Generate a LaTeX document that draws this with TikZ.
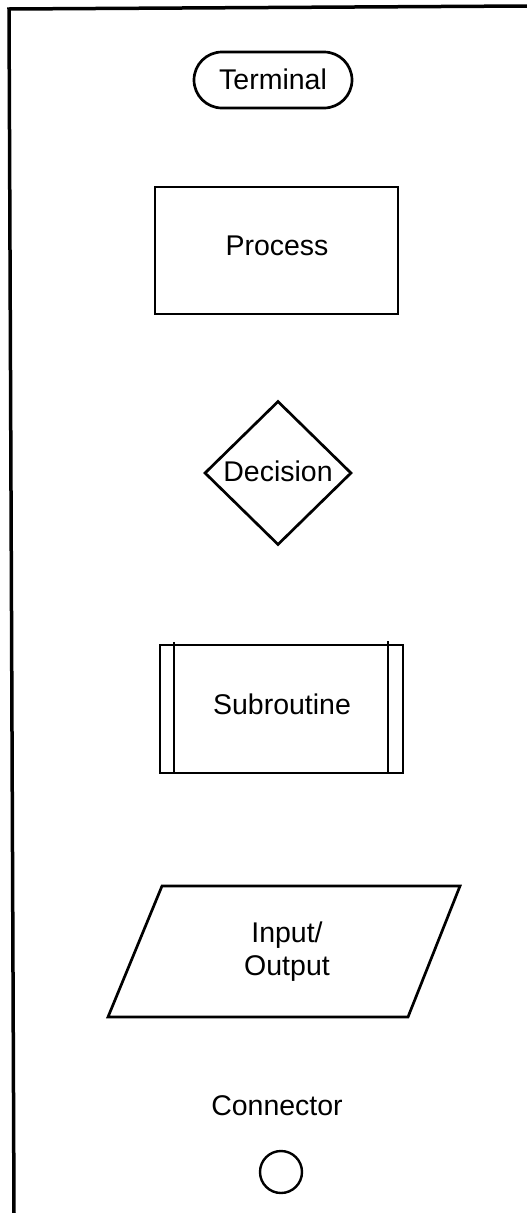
\documentclass[tikz,border=0pt]{standalone}
\usepackage{fontspec}
\setmainfont{Liberation Sans}
\usetikzlibrary{shapes.geometric}
\begin{document}
\begin{tikzpicture}[x=1pt,y=-1pt,
  shapeline/.style={draw=black,line width=2.7pt},
  lbl/.style={font=\fontsize{28.5}{33}\selectfont,align=center,inner sep=0pt},
  frameline/.style={draw=black,line width=3.5pt}]
\useasboundingbox (0,0) rectangle (527,1213);
% frame
\coordinate (fTL) at (9,9);
\coordinate (fTR) at (527,6);
\coordinate (fBL) at (14,1213);
\draw[frameline] (fTR) -- (fTL) -- (fBL);
% terminal
\node[shapeline,rounded corners=28pt,minimum width=158pt,minimum height=56pt,inner sep=0pt] (term) at (273,80) {};
\node[lbl] (termt) at (273,79) {Terminal};
% process
\node[shapeline,minimum width=243pt,minimum height=127pt,inner sep=0pt] (proc) at (276.5,250.5) {};
\node[lbl] (proct) at (277,246) {Process};
% decision
\node[shapeline,diamond,aspect=1,minimum width=147pt,minimum height=144pt,inner sep=0pt] (dec) at (278,473) {};
\node[lbl] (dect) at (278,471) {Decision};
% subroutine
\node[shapeline,minimum width=243pt,minimum height=128pt,inner sep=0pt] (sub) at (281.5,709) {};
\coordinate (sl1) at (174,642);
\coordinate (sl2) at (174,773);
\coordinate (sr1) at (388,641);
\coordinate (sr2) at (388,773);
\draw[shapeline] (sl1) -- (sl2);
\draw[shapeline] (sr1) -- (sr2);
\node[lbl] (subt) at (282,704) {Subroutine};
% input/output
\coordinate (io1) at (162,886);
\coordinate (io2) at (460,886);
\coordinate (io3) at (408,1017);
\coordinate (io4) at (108,1017);
\draw[shapeline,line join=miter] (io1) -- (io2) -- (io3) -- (io4) -- cycle;
\node[lbl] (iot) at (287,952) {Input/\\Output};
% connector
\node[lbl] (cont) at (277,1106) {Connector};
\node[draw=black,line width=2.4pt,circle,minimum size=42pt,inner sep=0pt] (con) at (281,1172) {};
\end{tikzpicture}
\end{document}
